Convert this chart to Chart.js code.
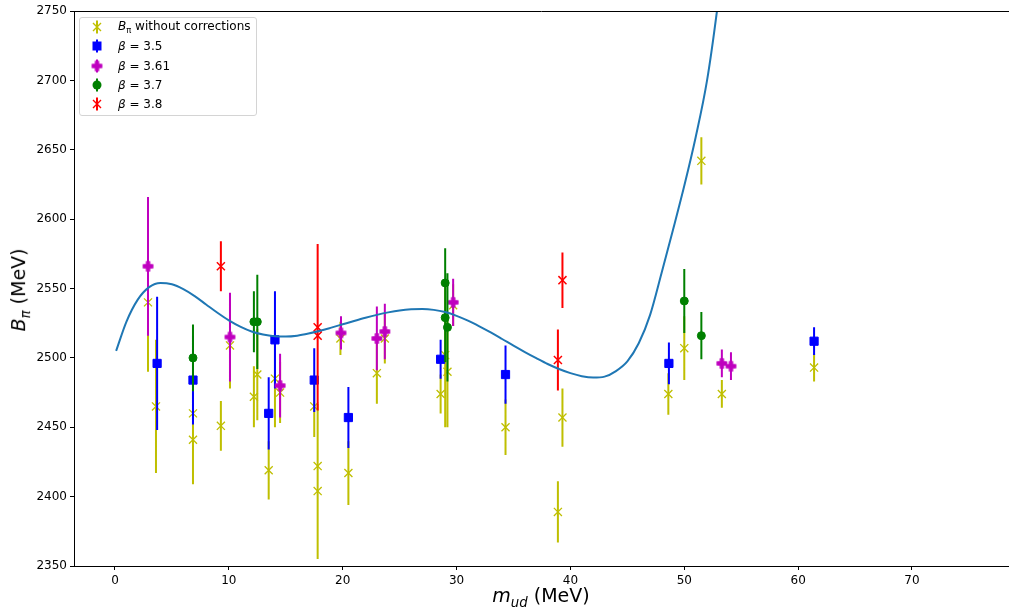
<!DOCTYPE html>
<html>
<head>
<meta charset="utf-8">
<script src="https://cdn.jsdelivr.net/npm/chart.js@4/dist/chart.umd.min.js"></script>
<style>
    body { margin: 0; background: #fff; font-family: "DejaVu Sans", sans-serif; }
    #wrap { position: relative; width: 1009px; height: 616px; }
    #legend {
        position: absolute; left: 79px; top: 17px; width: 176px; height: 97px;
        border: 1px solid #d4d4d4; border-radius: 3px; background: rgba(255,255,255,0.8);
        font-size: 12px; color: #000;
    }
    .row { position: absolute; left: 0; height: 18px; display: flex; align-items: center; white-space: nowrap; }
    .row canvas { margin-left: 7px; margin-right: 11px; }
    .xtitle { position: absolute; left: 391px; width: 300px; top: 584px; text-align: center; font-size: 19px; white-space: nowrap; }
    .ytitle { position: absolute; left: -80px; top: 277px; width: 200px; text-align: center; font-size: 19px; transform: rotate(-90deg); white-space: nowrap; }
    sub { font-size: 70%; }
</style>
</head>
<body>
<div id="wrap">
    <canvas id="chart" width="1009" height="616"></canvas>
    <div id="legend"></div>
    <div class="xtitle"><i>m</i><sub><i>ud</i></sub> (MeV)</div>
    <div class="ytitle"><i>B</i><sub><i>π</i></sub> (MeV)</div>
</div>
<script>
const xTicks = [0, 10, 20, 30, 40, 50, 60, 70]
const yTicks = [2350, 2400, 2450, 2500, 2550, 2600, 2650, 2700, 2750]
const yTickLabels = ["2350", "2400", "2450", "2500", "2550", "2600", "2650", "2700", "2750"]

// B_pi without corrections
const rawX = [2.9, 3.6, 6.85, 6.85, 9.3, 10.1, 12.2, 12.5, 13.5, 14.05, 14.5, 17.5, 17.8, 17.8, 19.8, 20.5, 23.0, 23.7, 28.6, 29.0, 29.2, 29.7, 34.3, 38.9, 39.3, 48.6, 50.0, 51.5, 53.3, 61.4]
const rawY = [2540, 2465, 2460, 2441, 2451, 2509, 2472, 2488, 2419, 2485, 2475, 2465, 2422, 2404, 2514, 2417, 2489, 2514, 2474, 2502, 2490, 2538, 2450, 2389, 2457, 2474, 2507, 2642, 2474, 2493]
const rawErr = [50, 48, 30, 32, 18, 31, 22, 33, 21, 35, 22, 22, 45, 49, 12, 23, 22, 18, 14, 52, 40, 15, 20, 22, 21, 15, 23, 17, 10, 10]

// beta = 3.5
const b35X = [3.7, 6.85, 13.5, 14.05, 17.5, 20.5, 28.6, 34.3, 48.65, 61.4]
const b35Y = [2496, 2484, 2460, 2513, 2484, 2457, 2499, 2488, 2496, 2512]
const b35Err = [48, 32, 26, 35, 23, 22, 14, 21, 15, 10]

// beta = 3.61
const b361X = [2.9, 10.1, 14.5, 19.85, 23.0, 23.7, 29.7, 53.3, 54.1]
const b361Y = [2566, 2515, 2480, 2518, 2514, 2519, 2540, 2496, 2494]
const b361Err = [50, 32, 23, 12, 23, 20, 17, 10, 10]

// beta = 3.7
const b37X = [6.85, 12.2, 12.5, 29.0, 29.0, 29.2, 50.0, 51.5]
const b37Y = [2500, 2526, 2526, 2554, 2529, 2522, 2541, 2516]
const b37Err = [24, 22, 34, 25, 32, 39, 23, 17]

// beta = 3.8
const b38X = [9.3, 17.8, 17.8, 38.9, 39.3]
const b38Y = [2566, 2522, 2516, 2498.5, 2556]
const b38Err = [18, 60, 50, 22, 20]

// fit curve
const fitX = [0.1, 1, 2, 3, 4, 5, 6, 7, 8, 9, 10, 11, 12, 13, 14, 15, 16, 17, 18, 19, 20, 21, 22, 23, 24, 25, 26, 27, 28, 29, 30,
    31, 32, 33, 34, 35, 36, 37, 38, 39, 40, 41, 42, 43, 44, 45, 46, 47, 48, 49, 50, 51, 52, 52.87, 53.3]
const fitY = [2505, 2526, 2542, 2551, 2554, 2553, 2549.5, 2544.5, 2538.5, 2532.5, 2527, 2522.5, 2519, 2516.8, 2515.6, 2515.4, 2516, 2517.5, 2519.5, 2521.8,
    2524.2, 2526.6, 2528.9, 2531, 2532.8, 2534.2, 2535, 2535.2, 2534.6, 2533, 2530.3, 2526.8, 2522.7, 2518.3, 2513.6, 2508.8, 2504.2, 2499.8, 2495.6, 2492,
    2489, 2486.8, 2485.8, 2486.5, 2490.5, 2497.5, 2510.5, 2531, 2561, 2592, 2624, 2659, 2700, 2750, 2780]

const YELLOW = "#bfbf00"
const BLUE = "#0000ff"
const MAGENTA = "#bf00bf"
const GREEN = "#008000"
const RED = "#ff0000"

function points(xs, ys){
    return xs.map((x, i) => ({x: x, y: ys[i]}))
}

function errorBars(xs, ys, es){
    const out = []
    xs.forEach((x, i) => {
        out.push({x: x, y: ys[i] - es[i]}, {x: x, y: ys[i] + es[i]}, {x: x, y: null})
    })
    return out
}

// matplotlib "P" marker (filled plus)
function plusMarker(color){
    const c = document.createElement("canvas")
    c.width = 13
    c.height = 13
    const g = c.getContext("2d")
    const u = 9.5 / 6
    const v = [[-1, -3], [1, -3], [1, -1], [3, -1], [3, 1], [1, 1], [1, 3], [-1, 3], [-1, 1], [-3, 1], [-3, -1], [-1, -1]]
    g.beginPath()
    v.forEach((p, i) => {
        const px = 6.5 + p[0] * u, py = 6.5 + p[1] * u
        if(i === 0) g.moveTo(px, py)
        else g.lineTo(px, py)
    })
    g.closePath()
    g.fillStyle = color
    g.strokeStyle = color
    g.lineWidth = 1.2
    g.lineJoin = "round"
    g.fill()
    g.stroke()
    return c
}

const plusImg = plusMarker(MAGENTA)

function barSet(xs, ys, es, color, order){
    return {
        type: "line",
        data: errorBars(xs, ys, es),
        borderColor: color,
        borderWidth: 2,
        pointRadius: 0,
        spanGaps: false,
        fill: false,
        order: order,
    }
}

function markerSet(xs, ys, color, style, radius, bw, order){
    return {
        type: "scatter",
        data: points(xs, ys),
        pointStyle: style,
        pointRadius: radius,
        pointBackgroundColor: color,
        pointBorderColor: color,
        pointBorderWidth: bw,
        order: order,
    }
}

const topSpine = {
    id: "topSpine",
    afterDraw(chart){
        const a = chart.chartArea
        const ctx = chart.ctx
        ctx.save()
        ctx.strokeStyle = "#000"
        ctx.lineWidth = 1
        ctx.beginPath()
        ctx.moveTo(a.left, Math.round(a.top) + 0.5)
        ctx.lineTo(a.right, Math.round(a.top) + 0.5)
        ctx.stroke()
        ctx.restore()
    }
}

const axisGrid = {drawOnChartArea: false, drawTicks: true, tickLength: 4, tickColor: "#000", color: "#000"}
const tickFont = {family: "DejaVu Sans", size: 12}

new Chart(document.getElementById("chart").getContext("2d"), {
    type: "scatter",
    data: {
        datasets: [
            {
                type: "line",
                data: points(fitX, fitY),
                borderColor: "#1f77b4",
                borderWidth: 2,
                pointRadius: 0,
                cubicInterpolationMode: "monotone",
                fill: false,
                order: 0,
            },
            markerSet(b38X, b38Y, RED, "crossRot", 5.7, 1.5, 1),
            barSet(b38X, b38Y, b38Err, RED, 2),
            markerSet(b37X, b37Y, GREEN, "circle", 4, 1, 3),
            barSet(b37X, b37Y, b37Err, GREEN, 4),
            markerSet(b361X, b361Y, MAGENTA, plusImg, 6, 1, 5),
            barSet(b361X, b361Y, b361Err, MAGENTA, 6),
            markerSet(b35X, b35Y, BLUE, "rect", 5.8, 1, 7),
            barSet(b35X, b35Y, b35Err, BLUE, 8),
            markerSet(rawX, rawY, YELLOW, "crossRot", 5.7, 1.3, 9),
            barSet(rawX, rawY, rawErr, YELLOW, 10),
        ]
    },
    options: {
        responsive: false,
        animation: false,
        devicePixelRatio: 1,
        layout: {autoPadding: false, padding: {left: 0, right: 0, top: 11, bottom: 0}},
        plugins: {
            legend: {display: false},
            tooltip: {enabled: false},
        },
        scales: {
            x: {
                type: "linear",
                min: -3.6,
                max: 78.52,
                grid: axisGrid,
                border: {display: true, color: "#000", width: 1},
                ticks: {color: "#000", font: tickFont, padding: 4, maxRotation: 0},
                afterBuildTicks: (scale) => { scale.ticks = xTicks.map((v) => ({value: v})) },
                afterFit: (scale) => { scale.height = 50 },
            },
            y: {
                type: "linear",
                min: 2350,
                max: 2750,
                grid: axisGrid,
                border: {display: true, color: "#000", width: 1},
                ticks: {
                    color: "#000", font: tickFont, padding: 3,
                    callback: (v) => yTickLabels[yTicks.indexOf(v)],
                },
                afterBuildTicks: (scale) => { scale.ticks = yTicks.map((v) => ({value: v})) },
                afterFit: (scale) => { scale.width = 74 },
            },
        },
    },
    plugins: [topSpine],
})

// legend
const legendItems = [
    {html: "<i>B</i><sub>π</sub> without corrections", color: YELLOW, kind: "x"},
    {html: "<i>β</i> = 3.5", color: BLUE, kind: "square"},
    {html: "<i>β</i> = 3.61", color: MAGENTA, kind: "plus"},
    {html: "<i>β</i> = 3.7", color: GREEN, kind: "circle"},
    {html: "<i>β</i> = 3.8", color: RED, kind: "x"},
]

function drawIcon(c, item){
    const g = c.getContext("2d")
    const cx = 10, cy = 9
    g.strokeStyle = item.color
    g.fillStyle = item.color
    g.lineWidth = 2
    g.beginPath()
    g.moveTo(cx, 2.5)
    g.lineTo(cx, 15.5)
    g.stroke()
    if(item.kind === "x"){
        g.lineWidth = 1.4
        g.beginPath()
        g.moveTo(cx - 4, cy - 4); g.lineTo(cx + 4, cy + 4)
        g.moveTo(cx - 4, cy + 4); g.lineTo(cx + 4, cy - 4)
        g.stroke()
    }else if(item.kind === "square"){
        g.fillRect(cx - 4.5, cy - 4.5, 9, 9)
    }else if(item.kind === "circle"){
        g.beginPath()
        g.arc(cx, cy, 4.5, 0, Math.PI * 2)
        g.fill()
    }else{
        g.drawImage(plusImg, cx - 6.5, cy - 6.5)
    }
}

const legend = document.getElementById("legend")
legendItems.forEach((item, i) => {
    const row = document.createElement("div")
    row.className = "row"
    row.style.top = (i * 19.3) + "px"
    const c = document.createElement("canvas")
    c.width = 20
    c.height = 18
    drawIcon(c, item)
    const span = document.createElement("span")
    span.innerHTML = item.html
    row.appendChild(c)
    row.appendChild(span)
    legend.appendChild(row)
})
</script>
</body>
</html>
